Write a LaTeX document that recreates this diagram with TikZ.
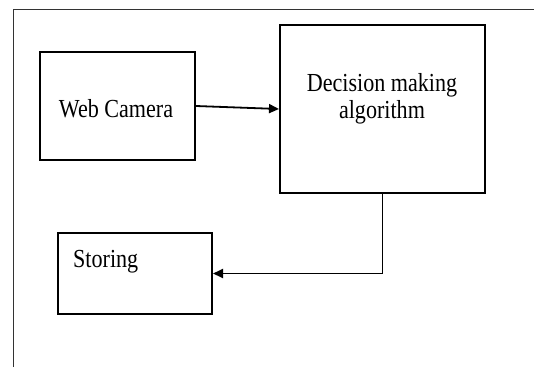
\documentclass[tikz,border=0pt]{standalone}
\usepackage{fontspec}
\setmainfont{Liberation Serif}
\newfontfamily\boxfont{Liberation Serif}[FakeStretch=0.85]
\usetikzlibrary{arrows.meta}

\begin{document}
\begin{tikzpicture}[x=1pt, y=-1pt,
    block/.style={draw, line width=2pt, inner sep=0pt},
    txt/.style={font=\boxfont\fontsize{26}{27}\selectfont, inner sep=0pt, anchor=base},
    flow/.style={line width=1.8pt, -{Triangle[length=10pt,width=9pt]}}]
   % page
   \useasboundingbox (0,0) rectangle (534,367);
   \draw[line width=0.9pt, black!80] (13,367) -- (13,9) -- (534,9);

   % blocks
   \node[block, minimum width=155pt, minimum height=108pt] (cam) at (117.5,106) {};
   \node[block, minimum width=205pt, minimum height=168pt] (dec) at (382.5,109) {};
   \node[block, minimum width=154pt, minimum height=81pt] (sto) at (135,273.5) {};

   % labels
   \node[txt] (camtext) at (116,117) {Web Camera};
   \node[txt] (dectext) at (382,91) {Decision making};
   \node[txt] (dectextb) at (382,118) {algorithm};
   \node[txt, anchor=base west] (stotext) at (73,267) {Storing};

   % connectors
   \draw[flow] (cam.east) -- (dec.west);
   \draw[flow] (dec.south) |- (sto.east);
\end{tikzpicture}
\end{document}
